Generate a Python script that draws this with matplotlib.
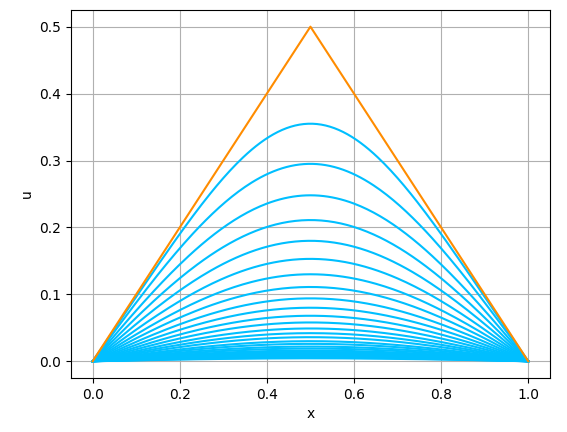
import numpy as np
import matplotlib
matplotlib.use("Agg")
import matplotlib.pyplot as plt

init_x = [0.0, 0.5, 1.0]
init_u = [0.0, 0.5, 0.0]
peaks = [0.355, 0.295, 0.248, 0.211, 0.180, 0.153, 0.130, 0.111, 0.094, 0.080,
         0.068, 0.058, 0.049, 0.042, 0.036, 0.030, 0.026, 0.022, 0.019, 0.016,
         0.014, 0.012, 0.010, 0.0085, 0.0072, 0.0061, 0.0052, 0.0044]
third = [-0.012, -0.003, -0.0007]  # third-harmonic amplitude of the first curves

fig, ax = plt.subplots(figsize=(5.67, 4.32), dpi=100)
fig.subplots_adjust(left=0.125, right=0.97, top=0.977, bottom=0.125)
x = np.linspace(0, 1, 201)
for i, p in enumerate(peaks):
    a3 = third[i] if i < len(third) else 0.0
    a1 = p + a3
    ax.plot(x, a1 * np.sin(np.pi * x) + a3 * np.sin(3 * np.pi * x), color='deepskyblue')
ax.plot(init_x, init_u, color='darkorange')
ax.set_xlabel('x')
ax.set_ylabel('u')
ax.grid(True)
fig.savefig('out.png')
